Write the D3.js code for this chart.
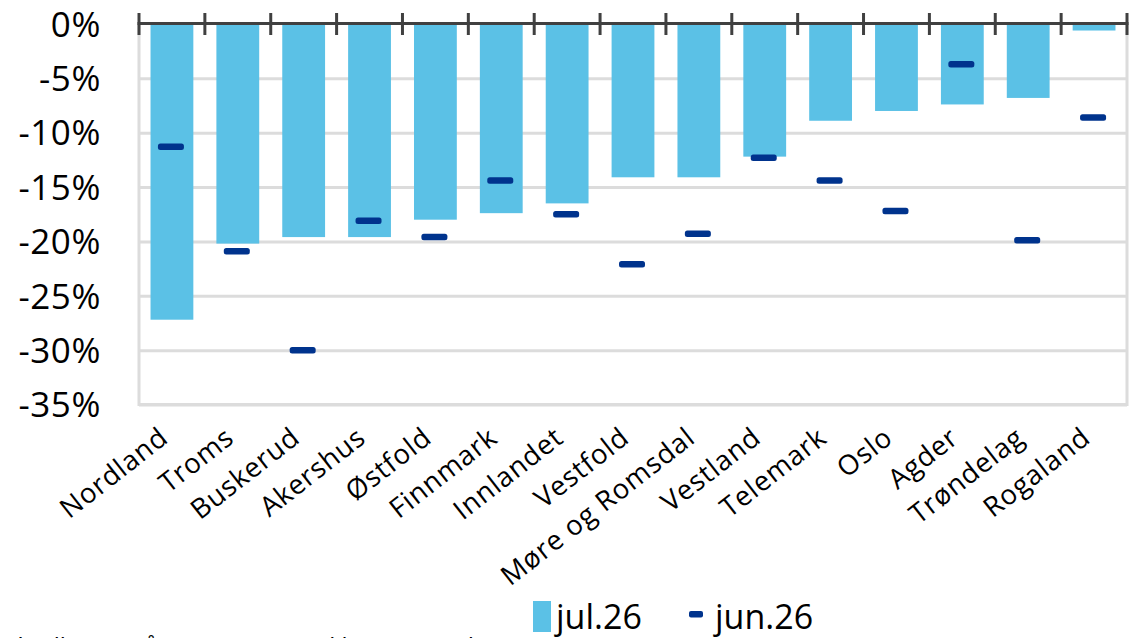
<!DOCTYPE html>
<html>
<head>
<meta charset="utf-8">
<script src="https://cdn.jsdelivr.net/npm/d3@7"></script>
<style>
  html, body { margin: 0; padding: 0; background: #fff; overflow: hidden; }
  svg { display: block; font-family: "Open Sans", "Noto Sans", sans-serif; }
</style>
</head>
<body>
<svg id="chart" width="1139" height="638"></svg>
<script>
const categories = ["Nordland","Troms","Buskerud","Akershus","Østfold","Finnmark","Innlandet","Vestfold","Møre og Romsdal","Vestland","Telemark","Oslo","Agder","Trøndelag","Rogaland"];
const jul26 = [-27.2,-20.2,-19.6,-19.6,-18.0,-17.4,-16.5,-14.1,-14.1,-12.2,-8.9,-8.0,-7.4,-6.8,-0.6];
const jun26 = [-11.3,-20.9,-30.0,-18.1,-19.6,-14.4,-17.5,-22.1,-19.3,-12.3,-14.4,-17.2,-3.7,-19.9,-8.6];
const yTicks = [0,-5,-10,-15,-20,-25,-30,-35];
const seriesNames = ["jul.26","jun.26"];
const footnote = "*Tall er ennå ujusterte, og vil kunne revideres";

const svg = d3.select("#chart");
const pLeft = 139, pRight = 1127, pTop = 24, pBottom = 404.5;

const x = d3.scaleBand().domain(categories).range([pLeft, pRight]).padding(0);
const xi = d3.scaleLinear().domain([0, categories.length]).range([pLeft, pRight]);
const y = d3.scaleLinear().domain([0, -35]).range([pTop, pBottom]);

const barColor = "#5bc1e6", markColor = "#00338d", gridColor = "#dcdcdc", axisColor = "#404040";

// gridlines
svg.append("g")
  .attr("transform", `translate(${pLeft},0)`)
  .call(d3.axisLeft(y).tickValues(yTicks.filter(d => d !== 0)).tickSize(-(pRight - pLeft)).tickFormat(""))
  .call(g => g.select(".domain").remove())
  .call(g => g.selectAll("line").attr("stroke", gridColor).attr("stroke-width", 3));

// frame left/right/bottom
svg.append("path")
  .attr("d", `M${pLeft},${pTop} V${y(-35)} H${pRight} V${pTop}`)
  .attr("fill", "none").attr("stroke", gridColor).attr("stroke-width", 3);

// y labels
svg.append("g")
  .attr("transform", `translate(101,0)`)
  .call(d3.axisLeft(y).tickValues(yTicks).tickSize(0).tickPadding(0).tickFormat(d => d + "%"))
  .call(g => g.select(".domain").remove())
  .call(g => g.selectAll("text").attr("font-size", 35).attr("fill", "#000")
      .attr("font-family", "'Open Sans', sans-serif").attr("dy", "0.35em").attr("letter-spacing", "0.6px"));

// bars
const bw = x.bandwidth() * 0.65;
svg.append("g").selectAll("rect").data(categories).join("rect")
  .attr("x", (d) => x(d) + (x.bandwidth() - bw) / 2)
  .attr("y", y(0))
  .attr("width", bw)
  .attr("height", (d, i) => y(jul26[i]) - y(0))
  .attr("fill", barColor);

// markers
const mw = 26, mh = 6.5;
svg.append("g").selectAll("rect").data(categories).join("rect")
  .attr("x", (d) => x(d) + x.bandwidth() / 2 - mw / 2 - 1)
  .attr("y", (d, i) => y(jun26[i]) - mh / 2)
  .attr("width", mw).attr("height", mh).attr("rx", 2.5)
  .attr("fill", markColor);

// zero axis
svg.append("line")
  .attr("x1", xi(0) - 1.5).attr("x2", xi(categories.length) + 1.5)
  .attr("y1", 23.5).attr("y2", 23.5)
  .attr("stroke", axisColor).attr("stroke-width", 3);
svg.append("g").selectAll("line").data(d3.range(categories.length + 1)).join("line")
  .attr("x1", d => xi(d)).attr("x2", d => xi(d))
  .attr("y1", 13).attr("y2", 35)
  .attr("stroke", axisColor).attr("stroke-width", 3);

// category labels
svg.append("g").selectAll("text").data(categories).join("text")
  .attr("transform", d => `translate(${x(d) + x.bandwidth() / 2 - 2},441) rotate(-38)`)
  .attr("text-anchor", "end")
  .attr("font-size", 27.5)
  .attr("letter-spacing", "0.8px")
  .attr("fill", "#000")
  .text(d => d);

// legend
const lg = svg.append("g");
lg.append("rect").attr("x", 533).attr("y", 601).attr("width", 18).attr("height", 31).attr("fill", barColor);
lg.append("text").attr("x", 556).attr("y", 629).attr("font-size", 34).attr("fill", "#000").text(seriesNames[0]);
lg.append("rect").attr("x", 689).attr("y", 611).attr("width", 14).attr("height", 6.5).attr("rx", 2).attr("fill", markColor);
lg.append("text").attr("x", 715).attr("y", 629).attr("font-size", 34).attr("fill", "#000").text(seriesNames[1]);

// footnote (clipped at bottom edge, as in the reference)
svg.append("text").attr("x", 14).attr("y", 655).attr("font-size", 24).attr("fill", "#000").text(footnote);
</script>
</body>
</html>
